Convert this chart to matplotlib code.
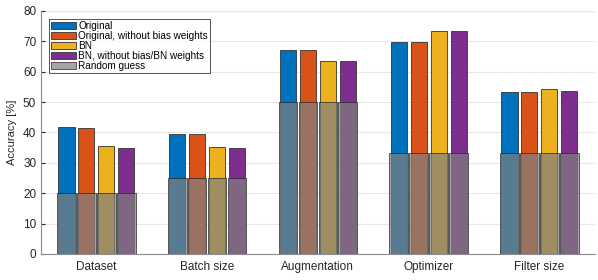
import matplotlib
matplotlib.use('Agg')
import matplotlib.pyplot as plt
import numpy as np

plt.rcParams['font.family'] = ['Liberation Sans', 'DejaVu Sans']

categories = ['Dataset', 'Batch size', 'Augmentation', 'Optimizer', 'Filter size']
series_names = ['Original', 'Original, without bias weights', 'BN', 'BN, without bias/BN weights']
original = [41.7, 39.6, 67.1, 69.8, 53.3]
original_nobias = [41.6, 39.4, 67.1, 69.7, 53.2]
bn = [35.5, 35.2, 63.6, 73.4, 54.2]
bn_nobias = [35.0, 34.9, 63.4, 73.5, 53.6]
random_guess = [20.0, 25.0, 50.0, 33.3, 33.3]

colors = ['#0072BD', '#D95319', '#EDB120', '#7E2F8E']
series = [original, original_nobias, bn, bn_nobias]

fig = plt.figure(figsize=(5.98, 2.8), dpi=100)
ax = fig.add_axes([0.0686, 0.093, 0.926, 0.868])

x = np.arange(1, len(categories) + 1)
offsets = [-0.27, -0.09, 0.09, 0.27]
for vals, c, off, name in zip(series, colors, offsets, series_names):
    ax.bar(x + off, vals, width=0.145, color=c, edgecolor='#333333', linewidth=0.6,
           label=name, zorder=2)
for i, off in enumerate(offsets):
    ax.bar(x + off, random_guess, width=0.168, color='#808080', alpha=0.7,
           edgecolor='#222222', linewidth=0.7,
           label='Random guess' if i == 0 else None, zorder=3)

ax.set_xlim(0.5, 5.5)
ax.set_ylim(0, 80)
ax.set_yticks(np.arange(0, 81, 10))
ax.set_xticks(x)
ax.set_xticklabels(categories)
ax.set_ylabel('Accuracy [%]', fontsize=8, color='#262626')
ax.tick_params(axis='both', labelsize=8.5, colors='#262626', direction='in', length=3)
ax.tick_params(axis='x', length=0, pad=5)
ax.grid(axis='y', color='#e6e6e6', linewidth=0.8, zorder=0)
ax.set_axisbelow(True)
for s in ['top', 'right']:
    ax.spines[s].set_visible(False)
for s in ['left', 'bottom']:
    ax.spines[s].set_color('#8c8c8c')
    ax.spines[s].set_linewidth(0.8)

leg = ax.legend(loc='upper left', fontsize=7.2, frameon=True, fancybox=False,
                edgecolor='#262626', handlelength=2.5, handleheight=0.75,
                handletextpad=0.2, labelspacing=0.0, borderpad=0.2,
                borderaxespad=0.8)
leg.get_frame().set_linewidth(0.7)

fig.savefig('out.png', dpi=100)
